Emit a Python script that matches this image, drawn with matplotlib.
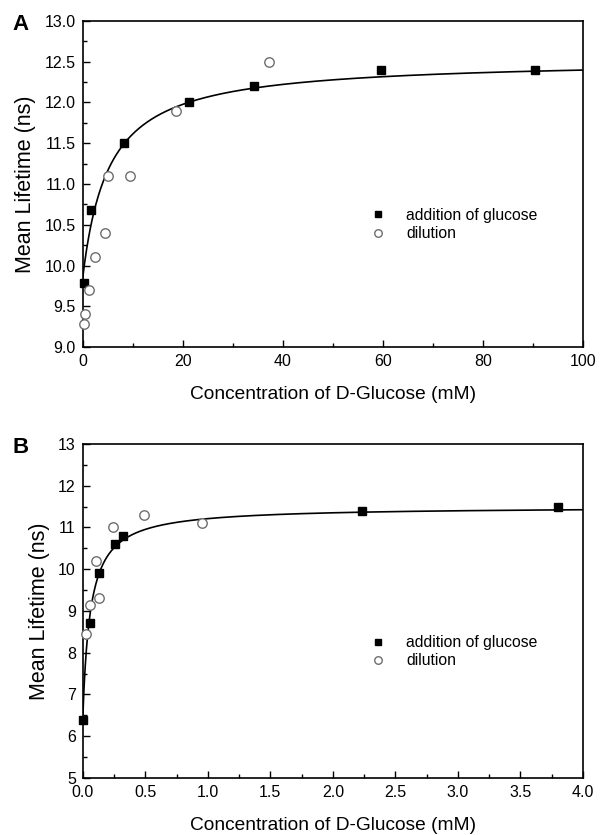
import matplotlib.pyplot as plt
import numpy as np
from matplotlib.ticker import MultipleLocator

plt.rcParams['font.family'] = ['Liberation Sans', 'DejaVu Sans']

# panel A data (mM, ns)
a_add_x = [0.3, 1.6, 8.3, 21.3, 34.3, 59.6, 90.5]
a_add_y = [9.78, 10.68, 11.5, 12.0, 12.2, 12.4, 12.4]
a_dil_x = [0.2, 0.5, 1.3, 2.4, 4.5, 5.0, 9.4, 18.7, 37.3]
a_dil_y = [9.28, 9.4, 9.7, 10.1, 10.4, 11.1, 11.1, 11.9, 12.5]
a_fit = (9.85, 2.68, 5.2)  # y0, amplitude, K

# panel B data
b_add_x = [0.005, 0.06, 0.13, 0.26, 0.32, 2.23, 3.8]
b_add_y = [6.4, 8.7, 9.9, 10.6, 10.8, 11.4, 11.5]
b_dil_x = [0.03, 0.06, 0.11, 0.13, 0.24, 0.49, 0.95]
b_dil_y = [8.45, 9.15, 10.2, 9.3, 11.0, 11.3, 11.1]
b_fit = (6.4, 5.1, 0.06)


def panel(ax, ax_x, ax_y, dx, dy, fit, xmax, ylim, xmaj, ymaj, fmt, letter):
    x = np.linspace(0, xmax, 800)
    y0, amp, k = fit
    ax.plot(x, y0 + amp * x / (k + x), color='black', lw=1.2, zorder=2)
    ax.plot(ax_x, ax_y, 's', color='black', ms=5.2, ls='none', zorder=3,
            label='addition of glucose', clip_on=False)
    ax.plot(dx, dy, 'o', mfc='white', mec='#6e6e6e', mew=1.0, ms=6.8,
            ls='none', zorder=3, label='dilution', clip_on=False)
    ax.set_xlim(0, xmax)
    ax.set_ylim(*ylim)
    ax.xaxis.set_major_locator(MultipleLocator(xmaj))
    ax.xaxis.set_minor_locator(MultipleLocator(xmaj / 2))
    ax.yaxis.set_major_locator(MultipleLocator(ymaj))
    ax.yaxis.set_minor_locator(MultipleLocator(ymaj / 2))
    ax.yaxis.set_major_formatter(fmt)
    ax.xaxis.set_major_formatter(plt.FuncFormatter(lambda v, p: ('%.1f' % v) if xmaj < 1 else '%d' % v))
    ax.tick_params(which='both', direction='in', top=False, right=False,
                   labelsize=11.5, width=1.0)
    ax.tick_params(which='major', length=5, pad=5)
    ax.tick_params(which='minor', length=3)
    for s in ax.spines.values():
        s.set_linewidth(1.2)
    ax.set_xlabel('Concentration of D-Glucose (mM)', fontsize=13.8, labelpad=12)
    ax.set_ylabel('Mean Lifetime (ns)', fontsize=15.5, labelpad=6)
    ax.legend(loc='upper left', bbox_to_anchor=(0.53, 0.47), frameon=False,
              fontsize=11.3, handletextpad=0.8, labelspacing=0.2, markerscale=0.8)
    ax.text(-0.14, 0.99, letter, transform=ax.transAxes, fontsize=16,
            fontweight='bold', va='center', ha='left')


fig = plt.figure(figsize=(6.02, 8.35), dpi=100)
ax1 = fig.add_axes([0.1374, 0.5844, 0.831, 0.3905])
ax2 = fig.add_axes([0.1374, 0.0683, 0.831, 0.400])

panel(ax1, a_add_x, a_add_y, a_dil_x, a_dil_y, a_fit, 100, (9, 13), 20, 0.5,
      plt.FormatStrFormatter('%.1f'), 'A')
panel(ax2, b_add_x, b_add_y, b_dil_x, b_dil_y, b_fit, 4.0, (5, 13), 0.5, 1,
      plt.FormatStrFormatter('%d'), 'B')

fig.savefig('out.png', dpi=100)
